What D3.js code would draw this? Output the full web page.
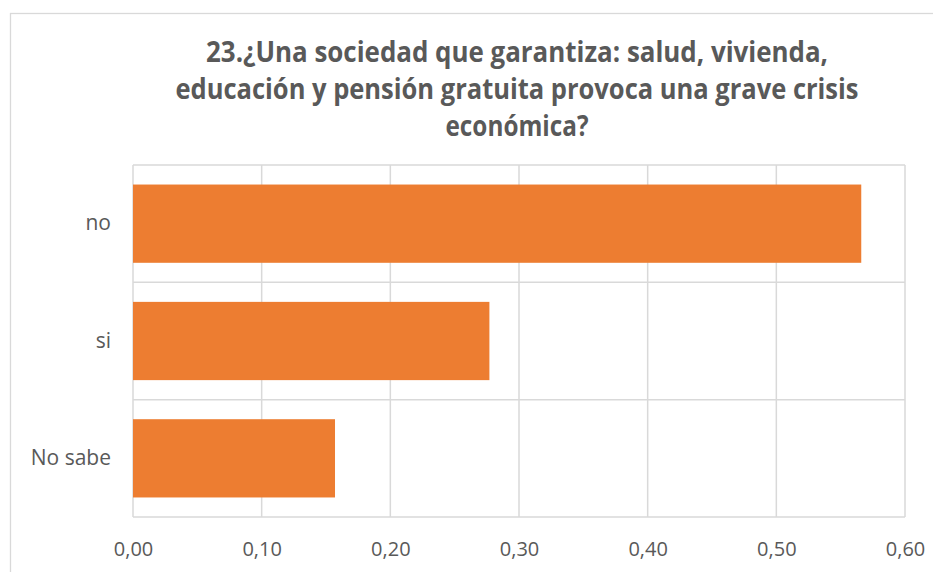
<!DOCTYPE html>
<html>
<head>
<meta charset="utf-8">
<script src="https://cdn.jsdelivr.net/npm/d3@7"></script>
<style>
  body { margin: 0; background: #fff; }
  svg { display: block; }
</style>
</head>
<body>
<div id="chart-area"></div>
<script>
var categories = ["no", "si", "No sabe"];
var values = [0.566, 0.277, 0.157];
var xTicks = [0, 0.1, 0.2, 0.3, 0.4, 0.5, 0.6];
var titleLines = [
    "23.¿Una sociedad que garantiza: salud, vivienda,",
    "educación y pensión gratuita provoca una grave crisis",
    "económica?"
];

var width = 933;
var height = 572;
var margin = {top: 165, right: 28, bottom: 55, left: 133};
var textColor = "#595959";
var gridColor = "#d9d9d9";

var svg = d3.select("#chart-area").append("svg")
    .attr("width", width)
    .attr("height", height);

// chart frame
svg.append("rect")
    .attr("x", 10.5)
    .attr("y", 13.5)
    .attr("width", 940)
    .attr("height", 600)
    .attr("fill", "none")
    .attr("stroke", gridColor)
    .attr("stroke-width", 1.3);

// title
var titleWidths = [622, 683, 143];
svg.append("g").selectAll("text")
    .data(titleLines)
    .enter()
    .append("text")
    .attr("x", 517)
    .attr("y", function(d, i) { return 62 + i * 37; })
    .attr("text-anchor", "middle")
    .attr("fill", textColor)
    .style("font-family", "'Open Sans', sans-serif")
    .style("font-weight", "bold")
    .style("font-size", "28px")
    .attr("textLength", function(d, i) { return titleWidths[i]; })
    .attr("lengthAdjust", "spacingAndGlyphs")
    .text(function(d) { return d; });

var x = d3.scaleLinear()
    .domain([0, 0.6])
    .range([margin.left, width - margin.right]);

var y = d3.scaleBand()
    .domain(categories)
    .range([margin.top, height - margin.bottom])
    .paddingInner(0.333)
    .paddingOuter(0.1665);

var plotTop = margin.top;
var plotBottom = height - margin.bottom;

// vertical gridlines
svg.append("g").selectAll("line")
    .data(xTicks)
    .enter()
    .append("line")
    .attr("x1", function(d) { return x(d); })
    .attr("x2", function(d) { return x(d); })
    .attr("y1", plotTop)
    .attr("y2", plotBottom)
    .attr("stroke", gridColor)
    .attr("stroke-width", 1.5);

// horizontal gridlines between categories
var bandEdges = categories.map(function(c) { return y(c) - y.step() * y.paddingInner() / 2; });
bandEdges.push(plotBottom);
svg.append("g").selectAll("line")
    .data(bandEdges)
    .enter()
    .append("line")
    .attr("x1", x(0))
    .attr("x2", x(0.6))
    .attr("y1", function(d) { return d; })
    .attr("y2", function(d) { return d; })
    .attr("stroke", gridColor)
    .attr("stroke-width", 1.5);

// bars
svg.append("g").selectAll("rect")
    .data(values)
    .enter()
    .append("rect")
    .attr("x", x(0))
    .attr("y", function(d, i) { return y(categories[i]); })
    .attr("width", function(d) { return x(d) - x(0); })
    .attr("height", y.bandwidth())
    .attr("fill", "#ed7d31");

// x axis labels
var xAxis = d3.axisBottom(x)
    .tickValues(xTicks)
    .tickSize(0)
    .tickPadding(0)
    .tickFormat(function(d) { return d3.format(".2f")(d).replace(".", ","); });

var gx = svg.append("g")
    .attr("transform", "translate(0," + plotBottom + ")")
    .call(xAxis);
gx.select(".domain").remove();
gx.selectAll("text")
    .attr("dy", null)
    .attr("y", 39)
    .attr("fill", textColor)
    .style("font-family", "'Open Sans', sans-serif")
    .style("font-size", "20px");

// y axis labels
var yAxis = d3.axisLeft(y)
    .tickSize(0)
    .tickPadding(22);

var gy = svg.append("g")
    .attr("transform", "translate(" + margin.left + ",0)")
    .call(yAxis);
gy.select(".domain").remove();
gy.selectAll("text")
    .attr("fill", textColor)
    .style("font-family", "'Open Sans', sans-serif")
    .style("font-size", "21px");
</script>
</body>
</html>
